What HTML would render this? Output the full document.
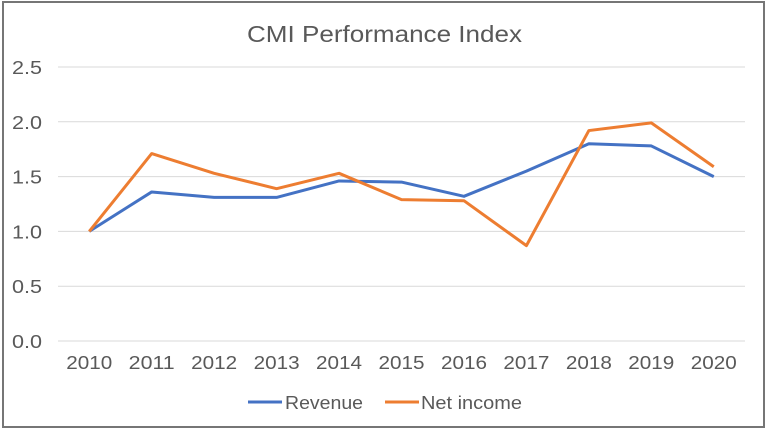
<!DOCTYPE html>
<html><head><meta charset="utf-8"><style>
body{margin:0;background:#fff;}
svg text{font-family:"Liberation Sans",Arial,sans-serif;fill:#595959;}
</style></head><body>
<svg width="768" height="433" xmlns="http://www.w3.org/2000/svg">
<rect x="3" y="2" width="761" height="425" fill="#fff" stroke="#767676" stroke-width="2"/>
<text x="247" y="42" font-size="23" textLength="275" lengthAdjust="spacingAndGlyphs">CMI Performance Index</text>
<g id="grid"></g>
<g id="yaxis"></g>
<g id="xaxis"></g>
<g id="series"></g>
<g>
<line x1="248" y1="402" x2="282" y2="402" stroke="#4472C4" stroke-width="3"/>
<text x="285" y="409" font-size="18" textLength="78" lengthAdjust="spacingAndGlyphs">Revenue</text>
<line x1="385" y1="402" x2="419" y2="402" stroke="#ED7D31" stroke-width="3"/>
<text x="421" y="409" font-size="18" textLength="101" lengthAdjust="spacingAndGlyphs">Net income</text>
</g>
</svg>
<script>
const categories=["2010","2011","2012","2013","2014","2015","2016","2017","2018","2019","2020"];
const revenue=[1.0,1.36,1.31,1.31,1.46,1.45,1.32,1.55,1.80,1.78,1.50];
const netIncome=[1.0,1.71,1.53,1.39,1.53,1.29,1.28,0.87,1.92,1.99,1.59];
const yTicks=[0,0.5,1.0,1.5,2.0,2.5];
const yTickLabels=["0.0","0.5","1.0","1.5","2.0","2.5"];
const NS="http://www.w3.org/2000/svg";
const L=58,R=745,T0=67,B0=341;
const band=(R-L)/categories.length;
const x=i=>L+band*(i+0.5);
const y=v=>B0-(v/2.5)*(B0-T0);
const grid=document.getElementById('grid'),ya=document.getElementById('yaxis'),xa=document.getElementById('xaxis'),se=document.getElementById('series');
yTicks.forEach((t,i)=>{
 const l=document.createElementNS(NS,'line');
 l.setAttribute('x1',L);l.setAttribute('x2',R);l.setAttribute('y1',y(t));l.setAttribute('y2',y(t));
 l.setAttribute('stroke','#d9d9d9');l.setAttribute('stroke-width','1');
 
 
 grid.appendChild(l);
 const tx=document.createElementNS(NS,'text');
 tx.setAttribute('x',12);tx.setAttribute('y',y(t)+7);tx.setAttribute('font-size','18');
 tx.setAttribute('textLength','30');tx.setAttribute('lengthAdjust','spacingAndGlyphs');
 tx.textContent=yTickLabels[i];
 
 
 ya.appendChild(tx);
});
categories.forEach((c,i)=>{
 const tx=document.createElementNS(NS,'text');
 tx.setAttribute('x',x(i)-23);tx.setAttribute('y',369);tx.setAttribute('font-size','18');
 tx.setAttribute('textLength','46');tx.setAttribute('lengthAdjust','spacingAndGlyphs');
 tx.textContent=c;
 
 
 xa.appendChild(tx);
});
function line(vals,color,name){
 const p=document.createElementNS(NS,'polyline');
 p.setAttribute('points',vals.map((v,i)=>x(i)+','+y(v)).join(' '));
 p.setAttribute('fill','none');p.setAttribute('stroke',color);p.setAttribute('stroke-width','3');p.setAttribute('stroke-linejoin','round');
 
 
 se.appendChild(p);
}
line(revenue,'#4472C4','revenue-line');
line(netIncome,'#ED7D31','net-income-line');
</script>
</body></html>
